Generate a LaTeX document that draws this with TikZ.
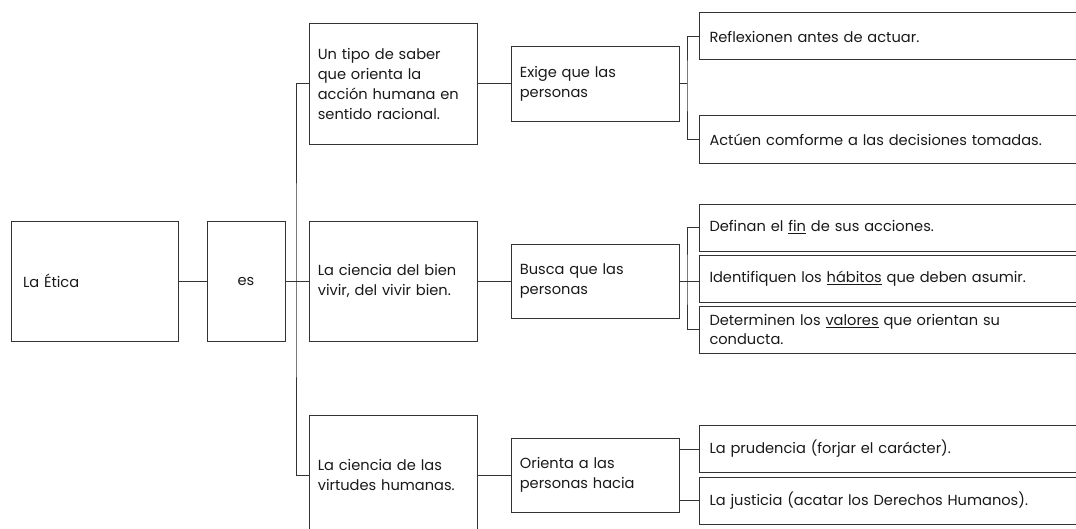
\documentclass[tikz,border=0pt]{standalone}
\usepackage{fontspec}
\setmainfont{Poppins}

\tikzset{
  caja/.style = {draw = black!80, line width = 0.7pt, text = black!90, align = left, inner xsep = 0.22cm, inner ysep = 0pt,
                 font = \fontsize{10.4}{14}\selectfont},
  linea/.style = {draw = black!80, line width = 0.7pt}
}

\begin{document}
\begin{tikzpicture}
            \useasboundingbox (0,0) rectangle (26.9,13.225);
            \clip (0,0) rectangle (26.9,13.225);
            %La Etica
            \node [caja, text width = 3.575cm, inner xsep = 0.3cm, minimum height = 3cm]
            (etica)at(2.3625,6.2){La Ética};
            %es
            \node [caja, align = center, text width = 1.51cm, minimum height = 3cm]
            (es)at(6.15,6.2){es};
            %Definiciones
            \node [caja, text width = 3.76cm, minimum height = 3cm]
            (def1)at(9.825,11.125){Un tipo de saber\\que orienta la\\acción humana en\\sentido racional.};
            \node [caja, text width = 3.76cm, minimum height = 3cm]
            (def2)at(9.825,6.2){La ciencia del bien\\vivir, del vivir bien.};
            \node [caja, text width = 3.76cm, minimum height = 3cm]
            (def3)at(9.825,1.35){La ciencia de las\\virtudes humanas.};
            %Verbos
            \node [caja, text width = 3.76cm, minimum height = 1.85cm]
            (ver1)at(14.875,11.125){Exige que las\\personas};
            \node [caja, text width = 3.76cm, minimum height = 1.85cm]
            (ver2)at(14.875,6.2){Busca que las\\personas};
            \node [caja, text width = 3.76cm, minimum height = 1.85cm]
            (ver3)at(14.875,1.35){Orienta a las\\personas hacia};
            %Acciones
            \node [caja, anchor = west, text width = 9.3cm, inner xsep = 0.25cm, minimum height = 1.175cm]
            (acc1)at(17.475,12.3125){Reflexionen antes de actuar.};
            \node [caja, anchor = west, text width = 9.3cm, inner xsep = 0.25cm, minimum height = 1.175cm]
            (acc2)at(17.475,9.7375){Actúen comforme a las decisiones tomadas.};
            \node [caja, anchor = west, text width = 9.3cm, inner xsep = 0.25cm, minimum height = 1.175cm]
            (acc3)at(17.475,7.5375){Definan el \underline{fin} de sus acciones.};
            \node [caja, anchor = west, text width = 9.3cm, inner xsep = 0.25cm, minimum height = 1.175cm]
            (acc4)at(17.475,6.2625){Identifiquen los \underline{hábitos} que deben asumir.};
            \node [caja, anchor = west, text width = 9.3cm, inner xsep = 0.25cm, minimum height = 1.175cm]
            (acc5)at(17.475,4.9875){Determinen los \underline{valores} que orientan su\\conducta.};
            \node [caja, anchor = west, text width = 9.3cm, inner xsep = 0.25cm, minimum height = 1.175cm]
            (acc6)at(17.475,2.0){La prudencia (forjar el carácter).};
            \node [caja, anchor = west, text width = 9.3cm, inner xsep = 0.25cm, minimum height = 1.175cm]
            (acc7)at(17.475,0.7125){La justicia (acatar los Derechos Humanos).};

            %Llaves
            \coordinate (tronco) at (7.4,6.2);
            \coordinate (k1) at (17.175,11.125);
            \coordinate (k2) at (17.175,6.2);

            \draw [linea](etica)--(es);
            \draw [linea](es)--(def2);
            \draw [linea](def1.west)-|(tronco)|-(def3.west);
            \draw [linea](def1)--(ver1);
            \draw [linea](def2)--(ver2);
            \draw [linea](def3)--(ver3);
            \draw [linea](ver1)--(k1);
            \draw [linea](acc1.west)-|(k1)|-(acc2.west);
            \draw [linea](ver2)--(k2);
            \draw [linea](acc3.west)-|(k2)|-(acc5.west);
            \draw [linea](k2)--(k2 -| acc4.west);
            \draw [linea](ver3.east |- acc6.west)--(acc6.west);
            \draw [linea](ver3.east |- acc7.west)--(acc7.west);

        \end{tikzpicture}
\end{document}
